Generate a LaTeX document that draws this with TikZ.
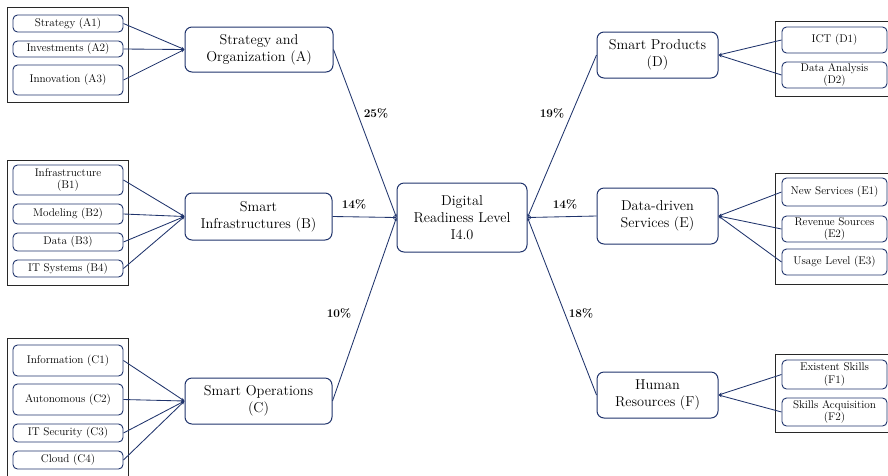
\documentclass[tikz,border=0pt]{standalone}
\usetikzlibrary{arrows.meta}
\definecolor{navy}{RGB}{32,52,108}
\definecolor{framegray}{RGB}{40,40,40}
\begin{document}
\begin{tikzpicture}[x=1pt,y=-1pt,
  mainbox/.style={draw=navy,line width=1pt,rounded corners=7pt,align=center,
    inner sep=0pt,fill=white,font=\fontsize{14.3}{17}\selectfont},
  subbox/.style={draw=navy,line width=0.9pt,rounded corners=4.5pt,align=center,
    inner sep=0pt,fill=white,minimum width=110pt,font=\fontsize{11.2}{12.5}\selectfont},
  groupframe/.style={draw=framegray,line width=1pt},
  link/.style={draw=navy,line width=0.85pt,-{Stealth[length=3.5pt,width=3pt]}},
  pct/.style={font=\fontsize{11.8}{12}\selectfont\bfseries,text=black}]
\useasboundingbox (0,0) rectangle (888,475);

% group frames
\draw[groupframe] (7,7) rectangle (128,102);
\draw[groupframe] (7,160) rectangle (128,285);
\draw[groupframe] (7,338) rectangle (128,490);
\draw[groupframe] (775,21) rectangle (896,96);
\draw[groupframe] (775,173) rectangle (896,284);
\draw[groupframe] (775,354) rectangle (896,432);

% central node
\node[mainbox,minimum width=130pt,minimum height=69pt] (dr) at (462,217.5)
  {Digital\\Readiness Level\\I4.0};

% dimension nodes
\node[mainbox,minimum width=148pt,minimum height=45pt] (A) at (259,49.5) {Strategy and\\Organization (A)};
\node[mainbox,minimum width=147pt,minimum height=47pt] (B) at (258.5,216.5) {Smart\\Infrastructures (B)};
\node[mainbox,minimum width=147pt,minimum height=46pt] (C) at (258.5,401) {Smart Operations\\(C)};
\node[mainbox,minimum width=121pt,minimum height=46pt] (D) at (657.5,55) {Smart Products\\(D)};
\node[mainbox,minimum width=121pt,minimum height=56pt] (E) at (657.5,216) {Data-driven\\Services (E)};
\node[mainbox,minimum width=121pt,minimum height=46pt] (F) at (657.5,395) {Human\\Resources (F)};

% sub-dimension nodes, left
\node[subbox,minimum height=17pt] (A1) at (68,23.5) {Strategy (A1)};
\node[subbox,minimum height=16pt] (A2) at (68,49) {Investments (A2)};
\node[subbox,minimum height=30pt] (A3) at (68,80) {Innovation (A3)};
\node[subbox,minimum height=30pt] (B1) at (68,180) {Infrastructure\\(B1)};
\node[subbox,minimum height=20pt] (B2) at (68,214) {Modeling (B2)};
\node[subbox,minimum height=18pt] (B3) at (68,242) {Data (B3)};
\node[subbox,minimum height=17pt] (B4) at (68,268.5) {IT Systems (B4)};
\node[subbox,minimum height=31pt] (C1) at (68,360.5) {Information (C1)};
\node[subbox,minimum height=31pt] (C2) at (68,399.5) {Autonomous (C2)};
\node[subbox,minimum height=18pt] (C3) at (68,433) {IT Security (C3)};
\node[subbox,minimum height=18pt] (C4) at (68,460) {Cloud (C4)};

% sub-dimension nodes, right
\node[subbox,minimum width=105pt,minimum height=26pt] (D1) at (834.5,40) {ICT (D1)};
\node[subbox,minimum width=105pt,minimum height=26pt] (D2) at (834.5,75) {Data Analysis\\(D2)};
\node[subbox,minimum width=105pt,minimum height=28pt] (E1) at (834.5,192) {New Services (E1)};
\node[subbox,minimum width=105pt,minimum height=26pt] (E2) at (834.5,229) {Revenue Sources\\(E2)};
\node[subbox,minimum width=105pt,minimum height=26pt] (E3) at (834.5,262) {Usage Level (E3)};
\node[subbox,minimum width=105pt,minimum height=29pt] (F1) at (834.5,374.5) {Existent Skills\\(F1)};
\node[subbox,minimum width=105pt,minimum height=28pt] (F2) at (834.5,412) {Skills Acquisition\\(F2)};

% sub-dimensions into dimensions
\foreach \s in {A1,A2,A3} \draw[link] (\s.east) -- (A.west);
\foreach \s in {B1,B2,B3,B4} \draw[link] (\s.east) -- (B.west);
\foreach \s in {C1,C2,C3,C4} \draw[link] (\s.east) -- (C.west);
\foreach \s in {D1,D2} \draw[link] (\s.west) -- (D.east);
\foreach \s in {E1,E2,E3} \draw[link] (\s.west) -- (E.east);
\foreach \s in {F1,F2} \draw[link] (\s.west) -- (F.east);

% dimensions into the readiness level
\foreach \s in {A,B,C} \draw[link] (\s.east) -- (dr.west);
\foreach \s in {D,E,F} \draw[link] (\s.west) -- (dr.east);

% weights
\node[pct] (wA) at (376,113) {25\%};
\node[pct] (wB) at (354,204) {14\%};
\node[pct] (wC) at (339,313) {10\%};
\node[pct] (wD) at (552,113) {19\%};
\node[pct] (wE) at (565,204) {14\%};
\node[pct] (wF) at (581,313) {18\%};
\end{tikzpicture}
\end{document}
